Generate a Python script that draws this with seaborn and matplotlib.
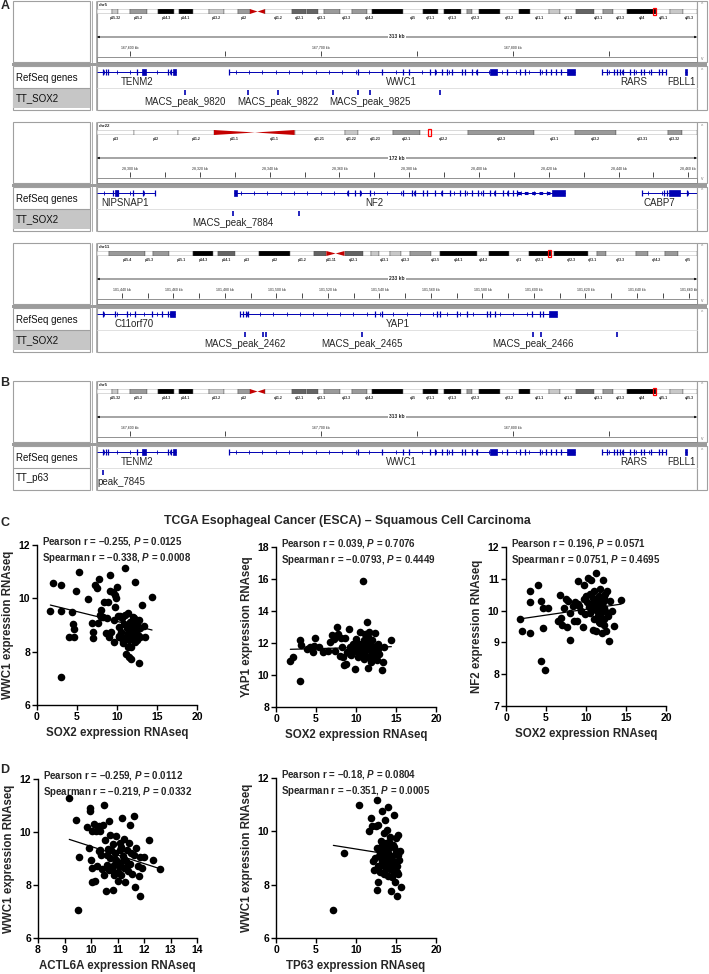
import seaborn as sns
import pandas as pd
import numpy as np
import matplotlib.pyplot as plt
from matplotlib.patches import Rectangle, Polygon

W, H = 709, 974
BLUE = "#0000b2"
FRAME = "#a0a0a0"
STAIN = {"gneg": "white", "gpos25": "#c8c8c8", "gpos50": "#9a9a9a", "gpos75": "#646464",
         "gpos100": "black", "gvar": "white", "stalk": "white"}

# ---------------- cytobands (Mb) ----------------
chr5_len = 180.9
chr5_names = ["p15.33", "p15.32", "p15.31", "p15.2", "p15.1", "p14.3", "p14.2", "p14.1", "p13.3", "p13.2",
              "p13.1", "p12", "p11", "q11.1", "q11.2", "q12.1", "q12.2", "q12.3", "q13.1", "q13.2",
              "q13.3", "q14.1", "q14.2", "q14.3", "q15", "q21.1", "q21.2", "q21.3", "q22.1", "q22.2",
              "q22.3", "q23.1", "q23.2", "q23.3", "q31.1", "q31.2", "q31.3", "q32", "q33.1", "q33.2",
              "q33.3", "q34", "q35.1", "q35.2", "q35.3"]
chr5_starts = [0, 4.5, 6.3, 9.8, 15.0, 18.4, 23.3, 24.6, 28.9, 33.8, 38.4, 42.5, 46.1, 48.4, 50.7, 58.9,
               62.9, 63.2, 66.7, 68.4, 73.3, 76.9, 81.4, 82.8, 92.3, 98.2, 102.8, 104.5, 109.6, 111.5,
               113.1, 115.2, 121.4, 127.3, 130.6, 136.2, 139.5, 144.5, 149.8, 152.7, 155.7, 159.9,
               168.5, 172.8, 176.6]
chr5_stains = ["gneg", "gpos25", "gneg", "gpos50", "gneg", "gpos100", "gneg", "gpos100", "gneg", "gpos25",
               "gneg", "gpos50", "acen", "acen", "gneg", "gpos75", "gneg", "gpos75", "gneg", "gpos50",
               "gneg", "gpos50", "gneg", "gpos100", "gneg", "gpos100", "gneg", "gpos100", "gneg", "gpos50",
               "gneg", "gpos100", "gneg", "gpos100", "gneg", "gpos25", "gneg", "gpos75", "gneg", "gpos50",
               "gneg", "gpos100", "gneg", "gpos25", "gneg"]
chr5_labels = ["p15.32", "p15.2", "p14.3", "p14.1", "p13.2", "p12", "q11.2", "q12.1", "q13.1", "q13.3",
               "q14.2", "q15", "q21.1", "q21.3", "q22.3", "q23.2", "q31.1", "q31.3", "q33.1", "q33.3",
               "q34", "q35.1", "q35.3"]

chr22_len = 51.3
chr22_names = ["p13", "p12", "p11.2", "p11.1", "q11.1", "q11.21", "q11.22", "q11.23", "q12.1", "q12.2",
               "q12.3", "q13.1", "q13.2", "q13.31", "q13.32", "q13.33"]
chr22_starts = [0, 3.2, 6.9, 10.0, 13.5, 16.9, 21.2, 22.3, 25.3, 27.6, 31.7, 37.4, 40.9, 44.4, 48.8, 50.0]
chr22_stains = ["gvar", "stalk", "gvar", "acen", "acen", "gneg", "gpos25", "gneg", "gpos50", "gneg",
                "gpos50", "gneg", "gpos50", "gneg", "gpos50", "gneg"]
chr22_labels = chr22_names[:-1]

chr11_len = 135.0
chr11_names = ["p15.5", "p15.4", "p15.3", "p15.2", "p15.1", "p14.3", "p14.2", "p14.1", "p13", "p12",
               "p11.2", "p11.12", "p11.11", "q11", "q12.1", "q12.2", "q12.3", "q13.1", "q13.2", "q13.3",
               "q13.4", "q13.5", "q14.1", "q14.2", "q14.3", "q21", "q22.1", "q22.2", "q22.3", "q23.1",
               "q23.2", "q23.3", "q24.1", "q24.2", "q24.3", "q25"]
chr11_starts = [0, 2.8, 10.7, 12.7, 16.2, 21.7, 26.1, 27.2, 31.0, 36.4, 43.5, 48.8, 51.6, 53.7, 55.7,
                59.9, 61.7, 63.4, 65.9, 68.4, 70.4, 75.2, 77.1, 85.6, 88.3, 92.8, 97.2, 102.1, 102.9,
                110.4, 112.5, 114.5, 121.2, 123.9, 127.8, 130.8]
chr11_stains = ["gneg", "gpos50", "gneg", "gpos50", "gneg", "gpos100", "gneg", "gpos75", "gneg", "gpos100",
                "gneg", "gpos75", "acen", "acen", "gpos75", "gneg", "gpos25", "gneg", "gpos25", "gneg",
                "gpos50", "gneg", "gpos100", "gneg", "gpos100", "gneg", "gpos100", "gneg", "gpos100", "gneg",
                "gpos50", "gneg", "gpos50", "gneg", "gpos50", "gneg"]
chr11_labels = ["p15.4", "p15.3", "p15.1", "p14.3", "p14.1", "p13", "p12", "p11.2", "p11.11", "q12.1",
                "q13.1", "q13.3", "q13.5", "q14.1", "q14.2", "q21", "q22.1", "q22.3", "q23.1", "q23.3",
                "q24.2", "q25"]

# ---------------- browser regions (kb, hg18) ----------------
chr5_region = (167583, 167896)
chr5_major = [167600, 167700, 167800, 167900]
chr5_minor = [167650, 167750, 167850]
chr5_genes = [
    dict(name="TENM2", span=(167583, 167624.3), label=167604,
         exons=[167586.1, 167587.7, 167588.7, 167603.9, 167620.1, 167621.6],
         blocks=[(167606.5, 167608.6), (167622.7, 167624.3)], utr=[]),
    dict(name="WWC1", span=(167651.9, 167832.1), label=167742,
         exons=[167651.9, 167719.3, 167731.8, 167742.8, 167745.9, 167756.9, 167759.5, 167763.2, 167765.8,
                167768.4, 167773.6, 167775.2, 167778.8, 167781.4, 167797.1, 167803.9, 167806.5, 167814.3,
                167817.0, 167819.6, 167822.2, 167824.8],
         blocks=[(167788.2, 167791.9), (167828.4, 167832.1)], utr=[]),
    dict(name="RARS", span=(167846.7, 167879.6), label=167862.9,
         exons=[167846.7, 167849.3, 167852.5, 167854.5, 167855.6, 167857.2, 167861.3, 167862.9, 167866.6,
                167868.1, 167871.8, 167876.0, 167878.0, 167879.6],
         blocks=[], utr=[]),
    dict(name="FBLL1", span=(167889.6, 167890.6), label=167888,
         exons=[], blocks=[(167889.6, 167890.6)], utr=[]),
]
chr5_peaks = [167629, 167662, 167677.5, 167706, 167719, 167725.6, 167762]
chr5_peak_names = ["MACS_peak_9820", "MACS_peak_9822", "MACS_peak_9825"]
chr5_peak_label_kb = [167629, 167677.5, 167725.6]

chr22_region = (28290.5, 28462.5)
chr22_major = list(range(28300, 28461, 20))
chr22_minor = list(range(28310, 28460, 20))
chr22_genes = [
    dict(name="NIPSNAP1", span=(28290.5, 28307.1), label=28298.5,
         exons=[28295.1, 28296.5, 28300.8, 28303.7, 28307.1], blocks=[(28295.6, 28296.6)], utr=[]),
    dict(name="NF2", span=(28329.8, 28424.6), label=28369.9,
         exons=[28362.4, 28364.4, 28365.8, 28368.7, 28378.2, 28380.7, 28381.6, 28383.9, 28385.0, 28387.3,
                28389.3, 28391.6, 28394.5, 28395.9, 28397.9, 28399.7, 28401.1, 28403.1, 28404.5, 28406.8,
                28408.3, 28409.7, 28410.8],
         blocks=[(28329.8, 28330.6), (28420.9, 28424.6)], utr=[(28410.8, 28420.9)]),
    dict(name="CABP7", span=(28446.6, 28462.4), label=28451.8,
         exons=[28446.6, 28453.1, 28454.0, 28459.5], blocks=[(28454.6, 28457.5)], utr=[]),
]
chr22_peaks = [28329.5, 28348.4]
chr22_peak_names = ["MACS_peak_7884"]
chr22_peak_label_kb = [28329.5]

chr11_region = (101430.3, 101663.3)
chr11_major = list(range(101440, 101661, 20))
chr11_minor = list(range(101450, 101660, 20))
chr11_genes = [
    dict(name="C11orf70", span=(101430.3, 101460.6), label=101444.7,
         exons=[101432.6, 101437.3, 101441.9, 101445.1, 101451.7, 101455.5, 101457.9],
         blocks=[(101458.6, 101460.6)], utr=[]),
    dict(name="YAP1", span=(101485.8, 101608.9), label=101547.2,
         exons=[101485.8, 101487.0, 101488.2, 101488.9, 101538.2, 101541.0, 101562.3, 101563.5, 101570.1,
                101574.0, 101581.7, 101582.9, 101584.8, 101599.2, 101602.3, 101603.5],
         blocks=[(101605.8, 101608.9)], utr=[]),
]
chr11_peaks = [101487.8, 101494.8, 101495.9, 101533.2, 101599.6, 101602.7, 101632.2]
chr11_peak_names = ["MACS_peak_2462", "MACS_peak_2465", "MACS_peak_2466"]
chr11_peak_label_kb = [101487.8, 101533.2, 101599.6]

p63_peaks = [167586]
p63_peak_names = ["peak_7845"]
p63_peak_label_kb = [167583]

# ---------------- TCGA ESCA scatter data ----------------
sox2_wwc1 = [(1.96, 10.59), (1.67, 9.54), (3.0, 10.5), (3.04, 9.54), (3.0, 7.04), (3.96, 8.54), (4.38, 9.48),
             (4.46, 9.04), (4.58, 8.84), (4.67, 8.54), (4.92, 10.29), (5.29, 10.98), (6.33, 9.96), (6.88, 9.09),
             (7.0, 8.5), (7.0, 8.73), (7.29, 10.5), (7.5, 10.4), (7.63, 9.06), (7.79, 10.74), (7.83, 9.38),
             (8.0, 9.58), (8.04, 9.31), (8.42, 9.85), (8.67, 8.69), (8.75, 9.28), (8.83, 9.88), (8.96, 8.56),
             (9.08, 10.88), (9.17, 10.29), (9.29, 8.73), (9.5, 10.22), (9.58, 8.35), (9.79, 10.13), (9.79, 9.66),
             (9.92, 10.0), (10.0, 10.41), (10.08, 9.34), (10.21, 8.56), (10.29, 8.91), (10.42, 9.34), (10.5, 8.75),
             (10.67, 9.25), (10.75, 8.31), (10.83, 9.04), (10.96, 11.15), (11.04, 9.38), (11.08, 7.91),
             (11.17, 8.56), (11.25, 8.9), (11.33, 9.44), (11.38, 8.19), (11.46, 8.44), (11.54, 7.81),
             (11.58, 8.75), (11.67, 9.13), (11.75, 8.19), (11.79, 7.71), (11.88, 8.56), (11.96, 9.31),
             (12.0, 8.96), (12.08, 8.69), (12.17, 9.25), (12.21, 10.63), (12.29, 8.38), (12.38, 8.84),
             (12.5, 9.06), (12.58, 8.63), (12.71, 7.56), (12.83, 8.88), (12.92, 8.56), (13.13, 9.75),
             (13.33, 8.96), (13.46, 8.54), (14.38, 10.04), (10.6, 8.56), (10.8, 8.4), (11.2, 9.0), (11.4, 8.7),
             (11.8, 9.0), (12.0, 9.1), (12.5, 8.45), (12.7, 9.2), (9.6, 9.2), (10.3, 8.6), (8.2, 9.3)]
sox2_yap1 = [(1.79, 10.88), (2.08, 11.13), (3.04, 12.21), (3.13, 11.85), (3.04, 9.6), (3.88, 11.65), (4.29, 11.75),
             (4.58, 11.44), (4.71, 11.81), (4.92, 12.33), (5.33, 11.75), (5.88, 11.44), (6.46, 11.5), (6.79, 12.06),
             (7.0, 12.48), (7.21, 12.27), (7.42, 11.5), (7.63, 13.0), (7.71, 12.58), (7.96, 11.17), (8.25, 11.75),
             (8.33, 11.13), (8.46, 10.65), (8.58, 12.33), (8.75, 10.71), (8.88, 11.44), (9.08, 12.9),
             (9.21, 11.75), (9.42, 11.23), (9.58, 11.96), (9.79, 11.65), (9.92, 10.4), (10.0, 12.27),
             (10.13, 11.44), (10.25, 11.13), (10.42, 11.92), (10.54, 12.69), (10.67, 11.75), (10.75, 11.33),
             (10.88, 15.85), (10.96, 12.17), (11.0, 11.02), (11.08, 12.58), (11.17, 11.54), (11.29, 11.81),
             (11.38, 13.31), (11.46, 10.44), (11.5, 12.38), (11.58, 11.13), (11.67, 11.92), (11.79, 11.58),
             (11.88, 10.81), (12.0, 12.21), (12.08, 11.33), (12.21, 11.75), (12.33, 11.13), (12.42, 12.63),
             (12.54, 11.5), (12.63, 10.94), (12.75, 11.96), (12.92, 11.29), (13.25, 10.29), (13.33, 10.81),
             (13.46, 11.75), (14.42, 12.21), (10.3, 11.6), (10.6, 11.4), (10.9, 11.9), (11.2, 11.2), (11.5, 11.6),
             (11.9, 11.9), (12.2, 11.4), (12.5, 11.1), (10.1, 11.9), (9.3, 11.3), (8.1, 12.3), (11.6, 12.7),
             (12.8, 11.6)]
sox2_nf2 = [(1.71, 9.74), (2.0, 9.35), (2.96, 10.61), (2.96, 10.26), (3.04, 9.29), (4.0, 10.81), (4.38, 10.31),
            (4.42, 8.42), (4.58, 10.08), (4.63, 9.46), (4.92, 8.12), (5.21, 10.08), (6.79, 10.49), (6.46, 9.66),
            (6.88, 9.77), (7.0, 9.56), (7.21, 10.08), (7.5, 10.37), (7.63, 9.48), (7.75, 10.29), (7.96, 9.08),
            (7.96, 9.92), (8.38, 10.13), (8.54, 9.66), (8.67, 10.26), (8.88, 9.66), (8.96, 10.93), (9.17, 10.13),
            (9.38, 10.0), (9.63, 9.48), (9.71, 10.37), (9.79, 10.79), (9.92, 9.9), (10.13, 10.26), (10.21, 11.03),
            (10.33, 10.1), (10.46, 9.92), (10.54, 10.52), (10.63, 10.95), (10.75, 10.21), (10.83, 9.39),
            (10.96, 10.63), (11.04, 9.74), (11.17, 10.05), (11.25, 11.18), (11.29, 9.35), (11.38, 10.31),
            (11.46, 9.84), (11.58, 9.63), (11.67, 10.13), (11.79, 10.68), (11.88, 9.92), (12.0, 9.29),
            (12.08, 10.26), (12.13, 10.95), (12.21, 9.74), (12.29, 10.08), (12.42, 10.52), (12.54, 9.37),
            (12.63, 10.63), (12.71, 9.84), (12.83, 9.04), (12.96, 10.31), (13.25, 10.0), (13.46, 9.53),
            (14.38, 10.34), (10.9, 10.4), (11.1, 10.2), (11.4, 10.0), (11.6, 10.45), (11.9, 10.2), (12.2, 10.4),
            (12.4, 10.0), (10.6, 10.15), (11.8, 9.6), (12.3, 9.55), (9.0, 10.2), (10.0, 10.45)]
actl6a_wwc1 = [(9.18, 11.3), (9.45, 10.44), (9.5, 7.04), (9.53, 9.06), (9.85, 10.19), (9.91, 9.38), (9.97, 10.91),
               (9.97, 10.78), (10.04, 10.03), (10.0, 8.96), (10.04, 8.64), (10.16, 8.14), (10.02, 8.12),
               (10.13, 10.31), (10.2, 10.03), (10.23, 8.7), (10.29, 10.24), (10.33, 9.33), (10.35, 10.03),
               (10.39, 9.12), (10.45, 10.28), (10.48, 8.39), (10.5, 11.03), (10.54, 9.69), (10.58, 7.76),
               (10.6, 8.77), (10.63, 9.36), (10.67, 8.58), (10.67, 10.4), (10.7, 9.9), (10.73, 9.02), (10.75, 9.31),
               (10.79, 8.56), (10.82, 7.82), (10.83, 9.56), (10.86, 8.77), (10.88, 8.39), (10.92, 9.21),
               (10.96, 9.86), (10.98, 8.89), (11.01, 8.14), (11.04, 8.73), (11.08, 9.31), (11.11, 9.58),
               (11.13, 8.39), (11.17, 10.53), (11.2, 9.09), (11.23, 8.64), (11.26, 9.74), (11.3, 8.1),
               (11.32, 8.89), (11.36, 9.33), (11.38, 8.52), (11.42, 9.58), (11.46, 10.28), (11.48, 8.81),
               (11.51, 9.21), (11.55, 8.43), (11.61, 10.62), (11.64, 9.15), (11.67, 7.92), (11.71, 9.4),
               (11.76, 8.7), (11.8, 8.33), (11.84, 9.06), (11.86, 7.57), (11.92, 8.64), (12.01, 9.06),
               (12.18, 9.71), (12.34, 8.96), (12.59, 8.6), (10.4, 8.6), (10.9, 9.0), (11.0, 8.5), (11.1, 8.8),
               (11.25, 9.0), (11.4, 8.75), (10.6, 9.15), (10.3, 9.3), (11.15, 9.45)]
tp63_wwc1 = [(7.17, 7.04), (8.5, 9.19), (10.42, 11.0), (11.63, 10.0), (11.83, 10.5), (12.04, 10.21), (12.17, 8.88),
             (12.29, 8.54), (12.46, 10.21), (12.58, 11.16), (12.58, 9.38), (12.58, 7.79), (12.71, 8.09),
             (12.79, 10.25), (12.88, 9.06), (12.96, 8.46), (13.08, 9.63), (13.21, 8.75), (13.29, 10.75),
             (13.38, 9.28), (13.46, 9.94), (13.54, 8.94), (13.63, 10.41), (13.71, 9.56), (13.79, 8.59),
             (13.88, 10.06), (13.96, 9.19), (14.04, 10.91), (14.04, 8.34), (14.13, 9.38), (14.21, 8.84),
             (14.29, 9.78), (14.38, 7.76), (14.46, 9.09), (14.54, 8.54), (14.63, 9.5), (14.71, 10.63),
             (14.79, 8.79), (14.88, 8.09), (14.96, 9.25), (15.04, 9.75), (15.08, 7.59), (15.17, 8.48),
             (15.29, 9.88), (15.38, 8.94), (15.5, 9.25), (15.58, 7.91), (13.0, 9.2), (13.3, 8.9), (13.6, 9.3),
             (13.9, 8.7), (14.2, 9.0), (14.5, 8.3), (14.8, 9.4), (15.1, 8.7), (13.5, 8.4), (14.1, 9.6), (14.6, 8.9),
             (15.2, 9.1), (13.2, 9.5), (12.8, 8.7), (14.3, 8.6), (13.7, 9.1), (14.9, 8.5), (12.4, 9.0), (15.3, 8.4)]

stats_c1 = "Pearson r = \u20130.255, $P$ = 0.0125\nSpearman r = \u20130.338, $P$ = 0.0008"
stats_c2 = "Pearson r = 0.039, $P$ = 0.7076\nSpearman r = \u20130.0793, $P$ = 0.4449"
stats_c3 = "Pearson r = 0.196, $P$ = 0.0571\nSpearman r = 0.0751, $P$ = 0.4695"
stats_d1 = "Pearson r = \u20130.259, $P$ = 0.0112\nSpearman r = \u20130.219, $P$ = 0.0332"
stats_d2 = "Pearson r = \u20130.18, $P$ = 0.0804\nSpearman r = \u20130.351, $P$ = 0.0005"

# ---------------- figure ----------------
sns.set_theme(style="ticks")
plt.rcParams['font.family'] = ['Liberation Sans', 'DejaVu Sans']
plt.rcParams['mathtext.fontset'] = 'custom'
plt.rcParams['mathtext.it'] = 'Liberation Sans:italic:bold'
plt.rcParams['mathtext.rm'] = 'Liberation Sans:bold'

fig = plt.figure(figsize=(W / 100, H / 100), dpi=100)
bg = fig.add_axes([0, 0, 1, 1], zorder=0)
bg.set_xlim(0, W)
bg.set_ylim(H, 0)
bg.axis('off')


def add_ax(x0, y0, x1, y1, z=2):
    ax = fig.add_axes([x0 / W, 1 - y1 / H, (x1 - x0) / W, (y1 - y0) / H], zorder=z)
    ax.patch.set_alpha(0)
    return ax


def frame(t, track_name, gray_track):
    # header block
    bg.add_patch(Rectangle((13, t), 77, 61, fc="white", ec=FRAME, lw=0.8))
    bg.add_patch(Rectangle((97, t), 600, 61, fc="white", ec=FRAME, lw=0.8))
    bg.add_patch(Rectangle((697, t), 10, 61, fc="white", ec=FRAME, lw=0.8))
    bg.add_patch(Rectangle((97, t + 56), 600, 5, fc="white", ec="#808080", lw=0.6))
    bg.add_patch(Rectangle((12, t + 61.5), 695, 3, fc="#9c9c9c", ec="none"))
    for x in (91.5, 95.5):
        bg.plot([x, x], [t, t + 109], color=FRAME, lw=0.6)
    # track block
    bg.add_patch(Rectangle((13, t + 65), 77, 44, fc="white", ec=FRAME, lw=0.8))
    bg.add_patch(Rectangle((97, t + 65), 600, 44, fc="white", ec=FRAME, lw=0.8))
    bg.add_patch(Rectangle((697, t + 65), 10, 44, fc="white", ec=FRAME, lw=0.8))
    bg.plot([13, 90], [t + 87, t + 87], color=FRAME, lw=0.8)
    bg.plot([97, 697], [t + 87, t + 87], color="#dcdcdc", lw=0.6)
    if gray_track:
        bg.add_patch(Rectangle((13, t + 87.5), 77, 19, fc="#c6c6c6", ec="none"))
    bg.text(16, t + 77, "RefSeq genes", fontsize=7, va="center", color="#111111")
    bg.text(16, t + 97, track_name, fontsize=7, va="center", color="#111111")
    for y, s in ((t + 4, "^"), (t + 57, "v"), (t + 69, "^")):
        bg.text(702, y, s, fontsize=3.5, ha="center", va="center", color="#808080")


def draw_ideogram(t, chrom, length, names, starts, stains, labels, region):
    bg.text(99, t + 4, chrom, fontsize=3.2, va="center", fontweight="bold")
    ax = add_ax(97, t + 8, 697, t + 13)
    ax.set_xlim(0, length)
    ax.set_ylim(0, 1)
    ax.axis('off')
    ends = starts[1:] + [length]
    for n, s, e, st in zip(names, starts, ends, stains):
        if st == "acen":
            pts = [(s, 0), (s, 1), (e, 0.5)] if n.startswith("p") else [(s, 0.5), (e, 1), (e, 0)]
            ax.add_patch(Polygon(pts, closed=True, fc="#c40000", ec="none"))
        else:
            ax.bar(s, 1, width=e - s, align="edge", color=STAIN[st], edgecolor="#505050", linewidth=0.3)
        if n in labels:
            ax.text((s + e) / 2, -0.35, n, fontsize=2.5, ha="center", va="top", fontweight="bold",
                    clip_on=False)
    rs, re_ = region[0] / 1000, region[1] / 1000
    w = max(re_ - rs, length * 0.005)
    ax.add_patch(Rectangle((rs, -0.15), w, 1.3, fill=False, ec="red", lw=0.9, clip_on=False))


def draw_ruler(t, region, major, minor):
    ax = add_ax(97, t + 28, 697, t + 56)
    ax.set_xlim(*region)
    ax.set_ylim(56, 28)
    ax.axis('off')
    ax.annotate("", xy=(region[1], 36), xytext=(region[0], 36),
                arrowprops=dict(arrowstyle="<|-|>", lw=0.5, color="black", mutation_scale=3,
                                shrinkA=0, shrinkB=0))
    ax.text(sum(region) / 2, 36, f"{round(region[1] - region[0])} kb", fontsize=3.6, ha="center",
            va="center", fontweight="bold", bbox=dict(fc="white", ec="none", pad=1.2))
    ax.vlines(major + minor, 50, 55, color="black", lw=0.5)
    for m in major:
        if m <= region[1]:
            ax.text(m, 46.5, f"{m:,} kb", fontsize=2.5, ha="center", va="center", clip_on=True)


def draw_tracks(t, region, genes, peaks, peak_names, peak_label_kb, left_label=False):
    ax = add_ax(97, t + 65, 697, t + 109)
    ax.set_xlim(*region)
    ax.set_ylim(109, 65)
    ax.axis('off')
    step = (region[1] - region[0]) / 45
    for g in genes:
        s, e = g["span"]
        ax.hlines(71, s, e, color=BLUE, lw=0.7)
        marks = np.arange(s + step / 2, e, step)
        ax.plot(marks, np.full(len(marks), 71), ls="none", marker="|", ms=2.2, mew=0.6, color=BLUE)
        ax.vlines(g["exons"], 68, 74, color=BLUE, lw=0.9)
        for us, ue in g["utr"]:
            ax.hlines(71, us, ue, color=BLUE, lw=2.2, linestyles=(0, (1.2, 1.2)))
        for bs, be in g["blocks"]:
            ax.add_patch(Rectangle((bs, 68), be - bs, 6, fc=BLUE, ec=BLUE, lw=0.5))
        ax.text(g["label"], 81, g["name"], fontsize=7, ha="center", va="center", clip_on=True)
    ax.vlines(peaks, 89, 93.5, color=BLUE, lw=1.2)
    for n, k in zip(peak_names, peak_label_kb):
        ax.text(k, 101, n, fontsize=7, ha="left" if left_label else "center", va="center", clip_on=True)


panels = [
    (1, "chr5", chr5_len, chr5_names, chr5_starts, chr5_stains, chr5_labels, chr5_region, chr5_major,
     chr5_minor, chr5_genes, chr5_peaks, chr5_peak_names, chr5_peak_label_kb, "TT_SOX2", True),
    (122, "chr22", chr22_len, chr22_names, chr22_starts, chr22_stains, chr22_labels, chr22_region, chr22_major,
     chr22_minor, chr22_genes, chr22_peaks, chr22_peak_names, chr22_peak_label_kb, "TT_SOX2", True),
    (243, "chr11", chr11_len, chr11_names, chr11_starts, chr11_stains, chr11_labels, chr11_region, chr11_major,
     chr11_minor, chr11_genes, chr11_peaks, chr11_peak_names, chr11_peak_label_kb, "TT_SOX2", True),
    (381, "chr5", chr5_len, chr5_names, chr5_starts, chr5_stains, chr5_labels, chr5_region, chr5_major,
     chr5_minor, chr5_genes, p63_peaks, p63_peak_names, p63_peak_label_kb, "TT_p63", False),
]
for (t, chrom, clen, names, starts, stains, labels, region, major, minor, genes, peaks, pnames, pkb,
     track, gray) in panels:
    frame(t, track, gray)
    draw_ideogram(t, chrom, clen, names, starts, stains, labels, region)
    draw_ruler(t, region, major, minor)
    draw_tracks(t, region, genes, peaks, pnames, pkb, left_label=(track == "TT_p63"))


def scatter_panel(rect, pairs, xlabel, ylabel, xlim, xticks, ylim, yticks, stats):
    ax = add_ax(*rect, z=3)
    df = pd.DataFrame(pairs, columns=["x", "y"])
    sns.regplot(data=df, x="x", y="y", ax=ax, ci=None, color="black",
                scatter_kws=dict(s=30, linewidths=0, alpha=1), line_kws=dict(lw=0.9))
    ax.set_xlim(*xlim)
    ax.set_ylim(*ylim)
    ax.set_xticks(xticks)
    ax.set_yticks(yticks)
    sns.despine(ax=ax)
    for sp in ("left", "bottom"):
        ax.spines[sp].set_linewidth(1.0)
        ax.spines[sp].set_color("black")
    ax.tick_params(direction="out", length=3.5, width=1.0, labelsize=7.5, pad=1.5, colors="black")
    for lab in ax.get_xticklabels() + ax.get_yticklabels():
        lab.set_fontweight("bold")
    ax.set_xlabel(xlabel, fontsize=8.3, fontweight="bold", labelpad=3.5)
    ax.set_ylabel(ylabel, fontsize=8.3, fontweight="bold", labelpad=3)
    ax.text(0.03, 1.06, stats, transform=ax.transAxes, fontsize=7, fontweight="bold", va="top",
            linespacing=1.3)


scatter_panel((37, 545, 197, 705), sox2_wwc1, "SOX2 expression RNAseq", "WWC1 expression RNAseq",
              (0, 20), [0, 5, 10, 15, 20], (6, 12), [6, 8, 10, 12], stats_c1)
scatter_panel((276, 547, 436, 707), sox2_yap1, "SOX2 expression RNAseq", "YAP1 expression RNAseq",
              (0, 20), [0, 5, 10, 15, 20], (8, 18), [8, 10, 12, 14, 16, 18], stats_c2)
scatter_panel((506, 547, 666, 706), sox2_nf2, "SOX2 expression RNAseq", "NF2 expression RNAseq",
              (0, 20), [0, 5, 10, 15, 20], (7, 12), [7, 8, 9, 10, 11, 12], stats_c3)
scatter_panel((38, 779, 197, 938), actl6a_wwc1, "ACTL6A expression RNAseq", "WWC1 expression RNAseq",
              (8, 14), [8, 9, 10, 11, 12, 13, 14], (6, 12), [6, 8, 10, 12], stats_d1)
scatter_panel((276, 778, 436, 938), tp63_wwc1, "TP63 expression RNAseq", "WWC1 expression RNAseq",
              (0, 20), [0, 5, 10, 15, 20], (6, 12), [6, 8, 10, 12], stats_d2)

bg.text(347, 521, "TCGA Esophageal Cancer (ESCA) \u2013 Squamous Cell Carcinoma", fontsize=8.8,
        fontweight="bold", ha="center", va="center")
for letter, (x, y) in {"A": (5, 6), "B": (5, 383), "C": (5, 523), "D": (5, 770)}.items():
    bg.text(x, y, letter, fontsize=9, fontweight="bold", ha="center", va="center")

fig.savefig("out.png", dpi=100)
